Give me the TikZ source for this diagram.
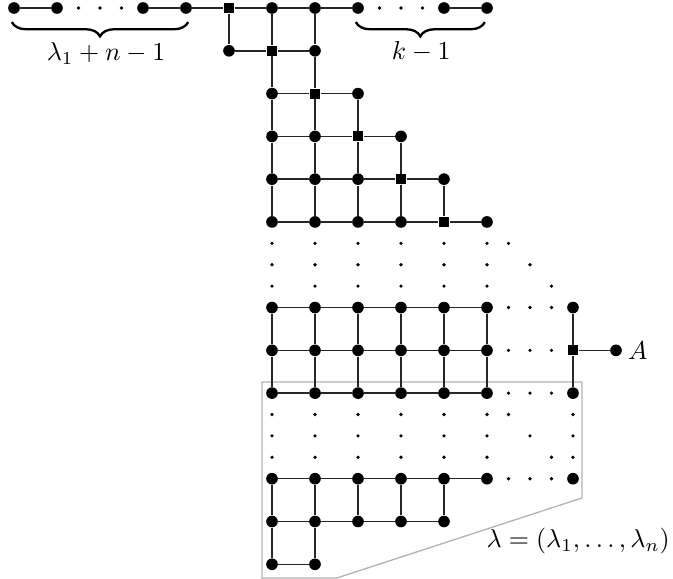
\documentclass[tikz,border=0pt]{standalone}
\usetikzlibrary{decorations.pathreplacing}
\begin{document}
\begin{tikzpicture}[x=16.6pt, y=-16.52pt,
  big/.style={circle, fill=black, inner sep=0pt, minimum size=4.5pt},
  sqr/.style={rectangle, fill=black, inner sep=0pt, minimum size=3.9pt},
  sm/.style={circle, fill=black, inner sep=0pt, minimum size=1.4pt},
  edge/.style={line width=0.55pt, black!85},
  bracestyle/.style={decorate, decoration={brace, mirror, amplitude=5.5pt}, line width=0.9pt},
  frame/.style={draw=black!30, line width=0.5pt}]
\useasboundingbox (-5.326,-0.187) rectangle (10.326,13.34);

% gray frame
\draw[frame] (0.767,8.74) -- (8.21,8.74) -- (8.21,11.45) -- (2.51,13.32) -- (0.767,13.32) -- cycle;

% big dots
\foreach \c/\r in {-5/0,-4/0,-2/0,-1/0,1/0,2/0,3/0,5/0,6/0,
  0/1,2/1, 1/2,3/2, 1/3,2/3,4/3, 1/4,2/4,3/4,5/4, 1/5,2/5,3/5,4/5,6/5,
  8/7, 9/8, 8/9, 8/11, 1/13, 2/13}
  \node[big] (p\c x\r) at (\c,\r) {};
\foreach \r in {7,8,9,11}
  \foreach \c in {1,...,6}
    \node[big] (p\c x\r) at (\c,\r) {};
\foreach \c in {1,...,5}
  \node[big] (p\c x12) at (\c,12) {};

% squares
\foreach \c/\r in {0/0,1/1,2/2,3/3,4/4,5/5,8/8}
  \node[sqr] (p\c x\r) at (\c,\r) {};

% small dots (doubled coordinates)
\foreach \C/\R in {-7/0,-6/0,-5/0,7/0,8/0,9/0,
  13/11,14/12,15/13, 13/19,14/20,15/21,
  13/14,14/14,15/14, 13/16,14/16,15/16, 13/18,14/18,15/18, 13/22,14/22,15/22,
  16/19,16/20,16/21}
  \node[sm] (s\C x\R) at (\C/2,\R/2) {};
\foreach \R in {11,12,13,19,20,21}
  \foreach \C in {2,4,...,12}
    \node[sm] (s\C x\R) at (\C/2,\R/2) {};

% horizontal edges
\foreach \r/\a/\b in {0/-5/-4, 0/-2/3, 0/5/6, 1/0/2, 2/1/3, 3/1/4, 4/1/5, 5/1/6,
  7/1/6, 8/1/6, 9/1/6, 11/1/6, 8/8/9, 12/1/5, 13/1/2} {
  \pgfmathtruncatemacro\bb{\b-1}
  \foreach \c in {\a,...,\bb} {
    \pgfmathtruncatemacro\d{\c+1}
    \draw[edge] (p\c x\r) -- (p\d x\r);
  }
}

% vertical edges
\foreach \c/\a/\b in {0/0/1, 1/0/5, 2/0/5, 3/2/5, 4/3/5, 5/4/5,
  1/7/9, 2/7/9, 3/7/9, 4/7/9, 5/7/9, 6/7/9, 8/7/9,
  1/11/12, 2/11/13, 3/11/12, 4/11/12, 5/11/12, 1/12/13} {
  \pgfmathtruncatemacro\bb{\b-1}
  \foreach \r in {\a,...,\bb} {
    \pgfmathtruncatemacro\d{\r+1}
    \draw[edge] (p\c x\r) -- (p\c x\d);
  }
}

% braces
\coordinate (b1s) at (-5.05,0.33);
\coordinate (b1e) at (-0.95,0.33);
\coordinate (b2s) at (2.95,0.33);
\coordinate (b2e) at (5.95,0.33);
\draw[bracestyle] (b1s) -- (b1e);
\draw[bracestyle] (b2s) -- (b2e);
\node (lab1) at (-2.86,1.07) {$\lambda_1+n-1$};
\node (lab2) at (4.47,1.03) {$k-1$};

% labels
\node[anchor=west, inner sep=2pt] (labA) at (p9x8.east) {$A$};
\node (lablam) at (8.12,12.45) {$\lambda=(\lambda_1,\ldots,\lambda_n)$};
\end{tikzpicture}
\end{document}
